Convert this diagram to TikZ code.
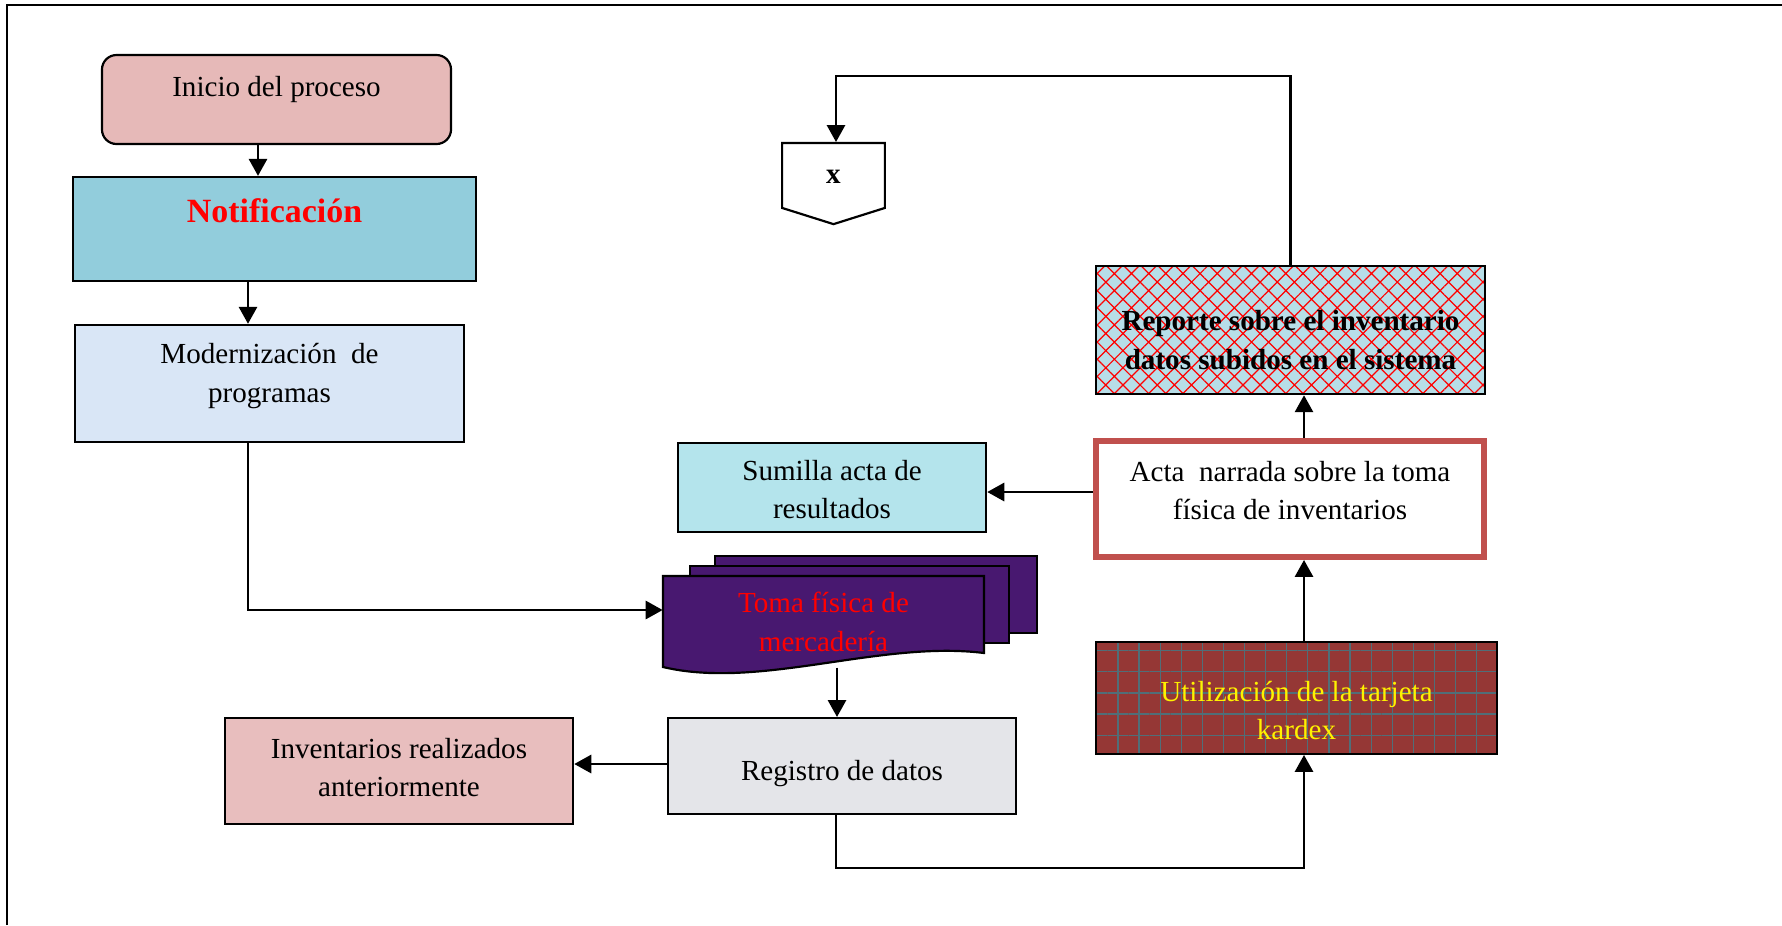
\documentclass[tikz,border=0pt]{standalone}
\usepackage{fontspec}
\setmainfont{Liberation Serif}
\usepackage{tikz}
\usetikzlibrary{positioning, arrows.meta, shapes.symbols, patterns.meta}

\definecolor{iniciopink}{RGB}{230,185,184}
\definecolor{notifblue}{RGB}{146,205,220}
\definecolor{modernblue}{RGB}{217,230,246}
\definecolor{sumillacyan}{RGB}{180,228,236}
\definecolor{tomapurple}{RGB}{72,24,112}
\definecolor{registrogray}{RGB}{228,229,233}
\definecolor{inventpink}{RGB}{232,190,190}
\definecolor{actared}{RGB}{192,80,77}
\definecolor{reporteblue}{RGB}{183,222,232}
\definecolor{kardexred}{RGB}{149,55,53}
\definecolor{kardexgrid}{RGB}{80,110,120}

\tikzstyle{box} = [rectangle, draw=black, line width=0.9pt, inner sep=0pt]
\tikzstyle{txt} = [align=center, font=\fontsize{12}{16}\selectfont]
\tikzstyle{titletxt} = [align=center, font=\fontsize{14}{17}\selectfont\bfseries, text=red]
\tikzstyle{line} = [line width=0.9pt]
\tikzstyle{arrow} = [line width=1pt, -{Triangle[length=7pt,width=7.5pt]}]

\begin{document}
\begin{tikzpicture}[x=0.0145cm, y=-0.0145cm]
        \useasboundingbox (0,0) rectangle (1782,925);
        \draw [line width=1.1pt] (7,925) -- (7,5) -- (1782,5);

        % columna izquierda
        \node (inicio) [box, rounded corners=6pt, fill=iniciopink, minimum width=5.06cm, minimum height=1.29cm,
            label={[name=inicio-txt, txt, yshift=4.1pt]center:Inicio del proceso}] at (276.5,99.5) {};
        \node (notificacion) [box, fill=notifblue, minimum width=5.84cm, minimum height=1.51cm,
            label={[name=notificacion-txt, titletxt, yshift=7.6pt]center:Notificación}] at (274.5,229) {};
        \node (modernizacion) [box, fill=modernblue, minimum width=5.64cm, minimum height=1.70cm,
            label={[name=modernizacion-txt, txt, yshift=3.2pt]center:Modernización\ \ de\\programas}] at (269.5,383.5) {};
        \node (inventarios) [box, fill=inventpink, minimum width=5.05cm, minimum height=1.54cm,
            label={[name=inventarios-txt, txt, yshift=1.4pt]center:Inventarios realizados\\anteriormente}] at (399,771) {};

        % centro
        \node (conector) [signal, signal to=south, signal pointer angle=145, draw=black, line width=0.9pt, fill=white,
            minimum width=1.49cm, minimum height=0.94cm, inner sep=0pt,
            label={[name=conector-txt, font=\fontsize{12}{14}\selectfont\bfseries, yshift=-0.6pt]center:x}] at (833.5,175.5) {};
        \node (sumilla) [box, fill=sumillacyan, minimum width=4.47cm, minimum height=1.29cm,
            label={[name=sumilla-txt, txt, yshift=-0.8pt]center:Sumilla acta de\\resultados}] at (832,487.5) {};

        \draw [line, fill=tomapurple] (715,556) rectangle (1037,633);
        \draw [line, fill=tomapurple] (690,566) rectangle (1009,643);
        \draw [line, fill=tomapurple] (663,576) -- (984,576) -- (984,653) .. controls (880,640) and (760,690) .. (663,667) -- cycle;
        \node (toma) [txt, text=red, minimum width=4.65cm, minimum height=1.32cm, inner sep=0pt] at (823.5,621.5) {Toma física de\\mercadería};

        \node (registro) [box, fill=registrogray, minimum width=5.05cm, minimum height=1.39cm,
            label={[name=registro-txt, txt, yshift=-3.3pt]center:Registro de datos}] at (842,766) {};

        % columna derecha
        \node (reporte) [box, preaction={fill=reporteblue},
            preaction={pattern={Hatch[angle=45,distance=5pt,line width=0.5pt]}, pattern color=red},
            minimum width=5.64cm, minimum height=1.86cm,
            label={[name=reporte-txt, txt, font=\fontsize{12}{16}\selectfont\bfseries, yshift=-4.1pt]center:Reporte sobre el inventario\\datos subidos en el sistema}] at (1290.5,330) {};
        \node (acta) [rectangle, draw=actared, line width=2.5pt, fill=white, minimum width=5.63cm, minimum height=1.68cm,
            label={[name=acta-txt, txt, yshift=3.5pt]center:Acta\ \ narrada sobre la toma\\física de inventarios}] at (1290,499) {};
        \node (kardex) [box, preaction={fill=kardexred},
            preaction={pattern={Hatch[angle=0,distance=8.7pt,line width=0.5pt]}, pattern color=kardexgrid},
            minimum width=5.81cm, minimum height=1.62cm,
            label={[name=kardex-txt, txt, text=yellow, yshift=-5.2pt]center:Utilización de la tarjeta\\kardex}] at (1296.5,698) {};

        \coordinate (retorno) at (836,76);
        \coordinate (desvio) at (1304,868);

        \draw [arrow] (inicio.south -| 258,0) -- (notificacion.north -| 258,0);
        \draw [arrow] (notificacion.south -| 248,0) -- (modernizacion.north -| 248,0);
        \draw [arrow] (modernizacion.south -| 248,0) |- (toma.west |- 0,610);
        \draw [arrow] (toma.south -| 837,0) -- (registro.north -| 837,0);
        \draw [arrow] (registro.west |- 0,764) -- (inventarios.east |- 0,764);
        \draw [arrow] (registro.south -| 836,0) |- (desvio) -- (kardex.south -| desvio);
        \draw [arrow] (kardex.north -| desvio) -- (acta.south -| desvio);
        \draw [arrow] (acta.north -| desvio) -- (reporte.south -| desvio);
        \draw [arrow] (acta.west |- 0,492) -- (sumilla.east |- 0,492);
        \draw [arrow] (reporte.north) |- (retorno) -- (conector.north -| retorno);

\end{tikzpicture}
\end{document}
